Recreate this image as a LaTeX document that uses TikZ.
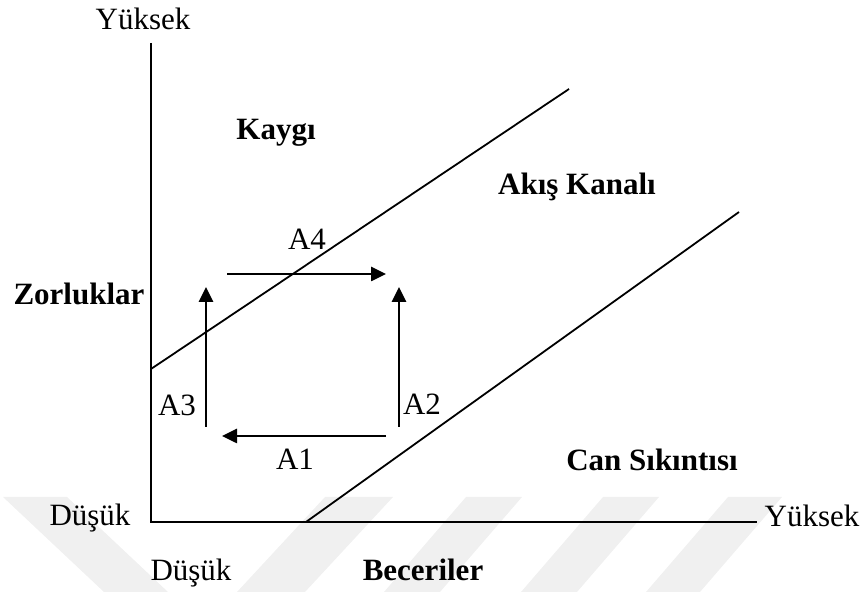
\documentclass[tikz,border=0pt]{standalone}
\usepackage{fontspec}
\setmainfont{Liberation Serif}
\usetikzlibrary{arrows.meta}
\begin{document}
\begin{tikzpicture}[x=0.5pt,y=-0.5pt,
  lbl/.style={anchor=base,inner sep=0pt,font=\fontsize{15.5pt}{18pt}\selectfont},
  blbl/.style={lbl,font=\fontsize{15.5pt}{18pt}\selectfont\bfseries},
  axisline/.style={line width=1pt},
  diag/.style={line width=0.9pt},
  flow/.style={line width=1.3pt,-{Triangle[length=7.5pt,width=7pt]}},
  band/.style={fill=black!6,draw=none}]
\useasboundingbox (0,0) rectangle (868,592);
% faint watermark bands
\fill[band] (3,497) -- (67,497) -- (168,592) -- (104,592) -- cycle;
\fill[band] (325,497) -- (393,497) -- (305,592) -- (237,592) -- cycle;
\fill[band] (466,497) -- (522,497) -- (440,592) -- (384,592) -- cycle;
\fill[band] (603,497) -- (659,497) -- (577,592) -- (521,592) -- cycle;
\fill[band] (728,497) -- (782,497) -- (700,592) -- (646,592) -- cycle;
% coordinates
\coordinate (O) at (151,522);
\coordinate (ytop) at (151,43);
\coordinate (xend) at (757,522);
\coordinate (d1s) at (151,369);
\coordinate (d1e) at (569,89);
\coordinate (d2s) at (306,522);
\coordinate (d2e) at (739,212);
\coordinate (a4s) at (227,274);
\coordinate (a4e) at (386,274);
\coordinate (a3s) at (206,427);
\coordinate (a3e) at (206,287);
\coordinate (a2s) at (399,427);
\coordinate (a2e) at (399,287);
\coordinate (a1s) at (386,436);
\coordinate (a1e) at (222,436);
% axes
\draw[axisline] (ytop) -- (O) -- (xend);
% channel lines
\draw[diag] (d1s) -- (d1e);
\draw[diag] (d2s) -- (d2e);
% flow arrows
\draw[flow] (a1s) -- (a1e);
\draw[flow] (a2s) -- (a2e);
\draw[flow] (a3s) -- (a3e);
\draw[flow] (a4s) -- (a4e);
% labels
\node[lbl] (yhigh) at (143,30) {Yüksek};
\node[blbl] (kaygi) at (276,140) {Kaygı};
\node[blbl] (akis) at (577,195) {Akış Kanalı};
\node[blbl] (zor) at (79,305) {Zorluklar};
\node[lbl] (tA4) at (307,250) {A4};
\node[lbl] (tA3) at (177,416) {A3};
\node[lbl] (tA2) at (422,415) {A2};
\node[lbl] (tA1) at (295,470) {A1};
\node[blbl] (can) at (652,471) {Can Sıkıntısı};
\node[lbl] (ylow) at (90,526) {Düşük};
\node[lbl] (xhigh) at (812,527) {Yüksek};
\node[lbl] (xlow) at (191,581) {Düşük};
\node[blbl] (bec) at (423,581) {Beceriler};
\end{tikzpicture}
\end{document}
